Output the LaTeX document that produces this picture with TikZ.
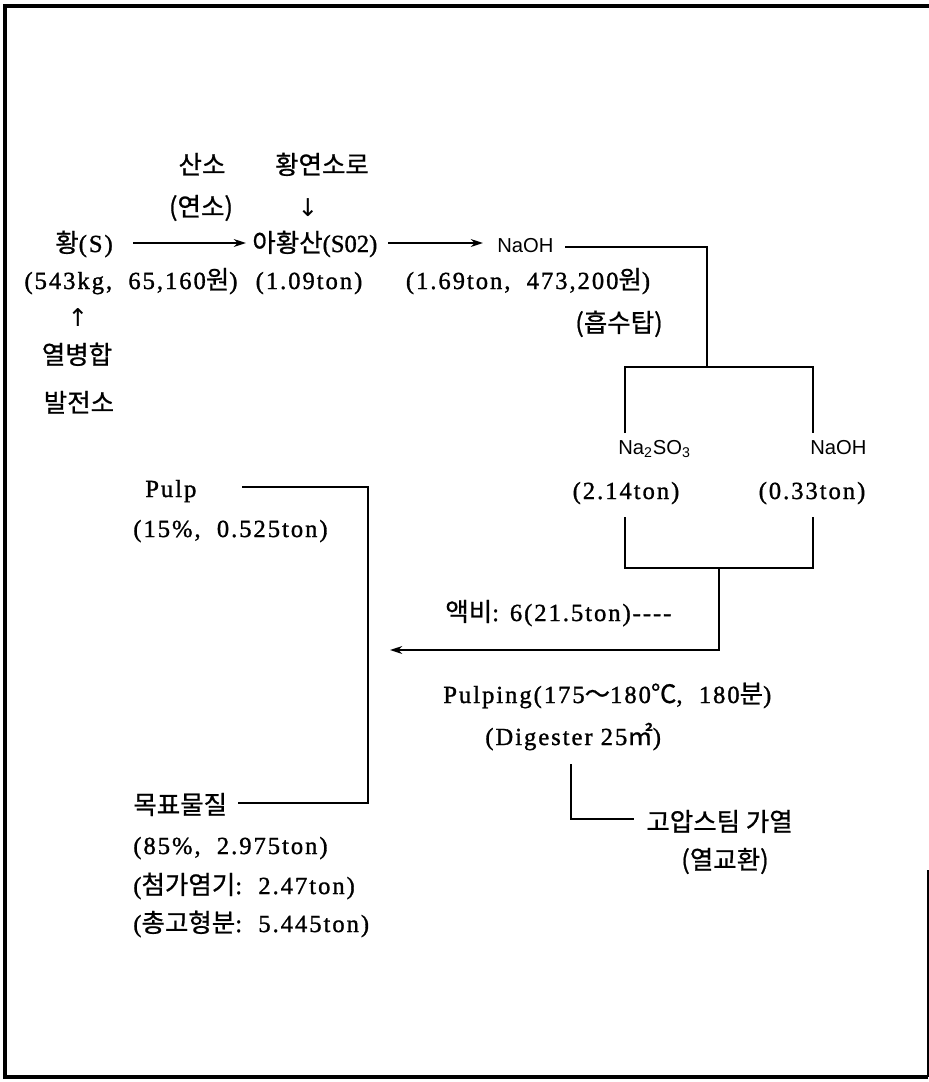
\documentclass[tikz,border=0pt]{standalone}
\usepackage{fontspec}
\setmainfont{Liberation Serif}[LetterSpace=8,FakeBold=1.2]
\setsansfont{Liberation Sans}
\newfontfamily\krf{Noto Sans CJK KR}[FakeBold=0.8]
\newfontfamily\latc{Liberation Serif}[FakeBold=1.2]
\newfontfamily\symf{DejaVu Sans}
\usetikzlibrary{arrows.meta}
\newcommand\hk[1]{{\krf\fontsize{14.5}{16}\selectfont #1}}
\begin{document}
\begin{tikzpicture}[x=0.02cm,y=-0.02cm,
  lbl/.style={inner sep=0pt,font=\fontsize{14}{16}\selectfont},
  chem/.style={inner sep=0pt,font=\sffamily\fontsize{11.5}{14}\selectfont},
  conn/.style={line width=1pt},
  flow/.style={conn,-{Stealth[length=7pt,width=4.5pt]}},
  frameline/.style={line width=2pt}]
\useasboundingbox (0,0) rectangle (929,1082);
% frame
\coordinate (fa) at (929,6);
\coordinate (fb) at (5,6);
\coordinate (fc) at (5,1077);
\coordinate (fd) at (928,1077);
\coordinate (fe) at (928,870);
\draw[frameline] (fa) -- (fb) -- (fc) -- (fd);
\draw[line width=1pt] (fd) -- (fe);

% top texts
\node[lbl,anchor=base] (sanso) at (202,174) {\hk{산소}};
\node[lbl,anchor=base] (hwangyeon) at (322,174) {\hk{황연소로}};
\node[lbl,anchor=base] (yeonso) at (201,216) {\hk{(연소)}};
\node[lbl,anchor=base] (down) at (308,216) {\symf ↓};
\node[lbl,anchor=base] (hwang) at (84,252) {\hk{황}(S)};
\node[lbl,anchor=base west] (ahwang) at (252,252) {\hk{아황산}{\latc\fontsize{14}{16}\selectfont(S02)}};
\node[chem,anchor=base west] (naoh1) at (497,252) {NaOH};

\node[lbl,anchor=base] (q1) at (131,289) {(543kg,\ \ 65,160\hk{원})};
\node[lbl,anchor=base] (q2) at (309,289) {(1.09ton)};
\node[lbl,anchor=base] (q3) at (528,289) {(1.69ton,\ \ 473,200\hk{원})};
\node[lbl,anchor=base] (tower) at (619,332) {\hk{(흡수탑)}};
\node[lbl,anchor=base] (up) at (78,326) {\symf ↑};
\node[lbl,anchor=base] (chp1) at (77,364) {\hk{열병합}};
\node[lbl,anchor=base] (chp2) at (79,412) {\hk{발전소}};

% arrows row 1
\coordinate (a1s) at (133,243);
\coordinate (a1e) at (246,243);
\coordinate (a2s) at (388,243);
\coordinate (a2e) at (483,243);
\draw[flow] (a1s) -- (a1e);
\draw[flow] (a2s) -- (a2e);

% NaOH to splitter
\coordinate (n1) at (565,247);
\coordinate (n2) at (707,247);
\coordinate (n3) at (707,367);
\draw[conn] (n1) -- (n2) -- (n3);
\coordinate (b1) at (625,433);
\coordinate (b2) at (625,367);
\coordinate (b3) at (813,367);
\coordinate (b4) at (813,433);
\draw[conn] (b1) -- (b2) -- (b3) -- (b4);

\node[chem,anchor=base west] (nasul) at (618,454) {Na\textsubscript{2}SO\textsubscript{3}};
\node[chem,anchor=base west] (naoh2) at (810,454) {NaOH};
\node[lbl,anchor=base] (m1) at (626,499) {(2.14ton)};
\node[lbl,anchor=base] (m2) at (812,499) {(0.33ton)};

\coordinate (c1) at (625,517);
\coordinate (c2) at (625,568);
\coordinate (c3) at (813,568);
\coordinate (c4) at (813,517);
\coordinate (c5) at (719,568);
\coordinate (c6) at (719,650);
\coordinate (c7) at (390,650);
\draw[conn] (c1) -- (c2) -- (c3) -- (c4);
\draw[flow] (c5) -- (c6) -- (c7);

\node[lbl,anchor=base west] (ratio) at (445,621) {\hk{액비}: 6(21.5ton){-}{-}{-}{-}};

% pulping
\node[lbl,anchor=base west] (pulping) at (443,703) {Pulping(175\hk{～}180\hk{℃},\ \ 180\hk{분})};
\node[lbl,anchor=base west] (digest) at (485,745) {(Digester 25\hk{㎡})};
\coordinate (s1) at (571,764);
\coordinate (s2) at (571,819);
\coordinate (s3) at (634,819);
\draw[conn] (s1) -- (s2) -- (s3);
\node[lbl,anchor=base west] (steam) at (646,831) {\hk{고압스팀 가열}};
\node[lbl,anchor=base] (heatx) at (725,869) {\hk{(열교환)}};

% products
\node[lbl,anchor=base west] (pulp) at (145,497) {Pulp};
\node[lbl,anchor=base west] (pulpq) at (133,537) {(15\%,\ \ 0.525ton)};
\node[lbl,anchor=base west] (target) at (133,814) {\hk{목표물질}};
\node[lbl,anchor=base west] (t1) at (133,854) {(85\%,\ \ 2.975ton)};
\node[lbl,anchor=base west] (t2) at (133,894) {(\hk{첨가염기}:\ \ 2.47ton)};
\node[lbl,anchor=base west] (t3) at (133,932) {(\hk{총고형분}:\ \ 5.445ton)};
\coordinate (p1) at (242,487);
\coordinate (p2) at (368,487);
\coordinate (p3) at (368,803);
\coordinate (p4) at (238,803);
\draw[conn] (p1) -- (p2) -- (p3) -- (p4);
\end{tikzpicture}
\end{document}
